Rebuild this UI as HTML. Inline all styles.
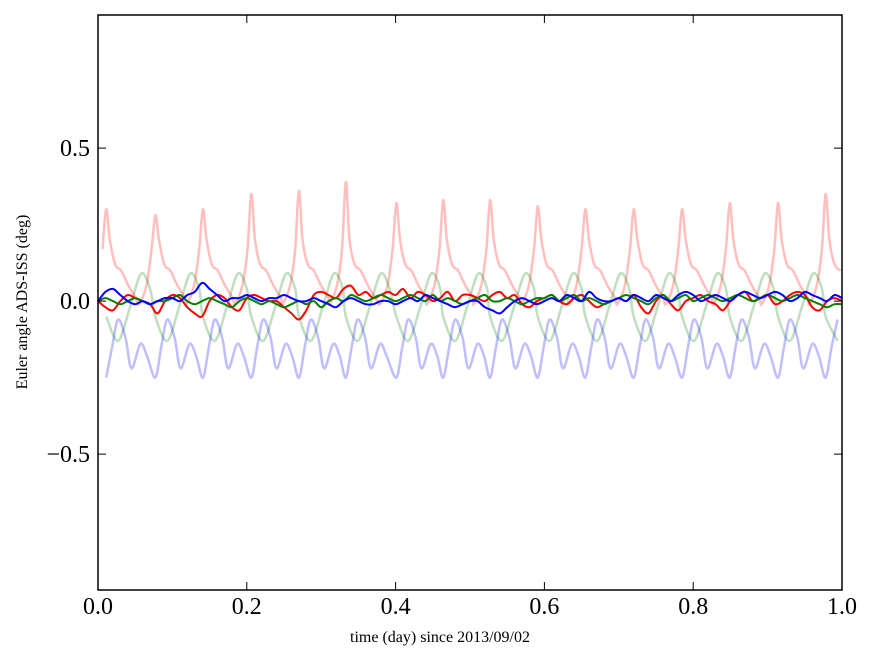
<!DOCTYPE html>
<html><head><meta charset="utf-8"><style>
body{margin:0;background:#fff;}
svg text{font-family:"Liberation Serif",serif;}
</style></head><body>
<svg id="chart" width="875" height="662" xmlns="http://www.w3.org/2000/svg">
<rect x="0" y="0" width="875" height="662" fill="#fff"/>
<g id="series"></g>
<rect x="98" y="15" width="744" height="575" fill="none" stroke="#000" stroke-width="1.5"/>
<g id="axes"></g>
<text x="440" y="642" font-size="16" text-anchor="middle">time (day) since 2013/09/02</text>
<text transform="translate(27,302) rotate(-90)" font-size="16" text-anchor="middle">Euler angle ADS-ISS (deg)</text>
</svg>
<script>
const xTicks=[0,0.2,0.4,0.6,0.8,1.0];
const xTickLabels=["0.0","0.2","0.4","0.6","0.8","1.0"];
const yTicks=[0.5,0,-0.5];
const yTickLabels=["0.5","0.0","\u22120.5"];
// orbit peak times and light-red peak values
const peakTimes=[0.011,0.077,0.141,0.206,0.270,0.333,0.401,0.464,0.527,0.591,0.655,0.720,0.785,0.849,0.914,0.978];
const redPeakValues=[0.30,0.28,0.30,0.35,0.36,0.39,0.32,0.33,0.33,0.31,0.30,0.30,0.30,0.32,0.32,0.35];
// per-orbit shapes (offset day, value)
const redShapeOffsets=[-0.022,-0.012,-0.005,0,0.005,0.012,0.02,0.03,0.04];
const redShapeValues=[-0.01,0.05,0.17,null,0.2,0.12,0.1,0.05,0.01];
const greenShapeOffsets=[0,0.016,0.032,0.047,0.059];
const greenShapeValues=[-0.05,-0.13,-0.02,0.09,0.04];
const blueShapeOffsets=[0,0.008,0.016,0.026,0.034,0.046,0.055];
const blueShapeValues=[-0.25,-0.15,-0.06,-0.12,-0.22,-0.14,-0.18];
// dark series sampled every 0.01 day
const darkRed=[0.0,-0.02,-0.03,0.0,0.02,0.01,0.0,-0.01,-0.04,0.0,0.02,0.01,-0.02,-0.04,-0.05,0.0,0.02,0.01,-0.02,-0.03,0.01,0.02,0.01,0.0,0.0,-0.02,-0.04,-0.06,-0.03,0.02,0.03,0.02,0.01,0.04,0.05,0.02,0.03,0.01,0.02,0.03,0.02,0.04,0.01,0.03,0.02,0.0,0.01,0.03,0.0,0.02,0.02,0.01,0.0,0.02,0.03,0.01,0.02,-0.01,-0.02,0.0,0.01,0.02,0.0,-0.01,0.01,0.02,0.0,-0.02,-0.01,0.0,0.01,0.0,0.02,-0.02,-0.04,0.0,0.02,-0.01,-0.03,0.0,0.01,0.02,0.0,-0.01,-0.03,0.0,0.02,0.03,0.0,0.01,0.02,-0.01,0.0,0.02,0.03,0.02,-0.02,-0.03,0.0,0.01,0.0];
const darkGreen=[0.0,0.01,0.0,-0.01,0.0,0.01,0.0,-0.01,0.0,0.0,0.01,0.02,0.0,-0.01,0.0,0.01,0.0,-0.01,-0.02,0.0,0.01,0.0,-0.01,0.0,-0.01,-0.02,-0.01,0.0,-0.01,0.0,-0.02,0.0,0.01,0.0,0.02,0.01,0.0,0.01,0.02,0.01,0.0,0.01,0.02,0.01,0.0,0.02,0.0,0.01,0.0,-0.01,0.0,0.01,0.02,0.0,0.0,0.01,0.0,-0.01,0.0,0.01,0.01,0.02,0.0,0.01,0.02,0.0,0.01,0.0,-0.01,0.0,0.01,0.02,0.01,0.0,-0.01,0.01,0.02,0.0,0.01,0.02,0.0,0.01,0.02,0.01,0.0,0.01,0.02,0.01,0.0,0.01,0.02,0.01,0.0,0.01,0.02,0.01,0.0,-0.01,-0.02,-0.01,-0.01];
const darkBlue=[0.0,0.03,0.04,0.02,0.0,-0.01,0.0,-0.01,0.0,0.01,0.01,0.0,0.02,0.03,0.06,0.04,0.02,0.0,0.01,0.01,0.02,0.01,0.0,0.01,0.01,0.02,0.01,0.0,0.0,0.01,0.0,-0.01,-0.02,0.0,0.01,0.0,-0.01,-0.01,0.0,0.0,-0.01,0.0,0.01,0.0,0.02,0.01,0.0,-0.01,-0.02,-0.01,0.0,0.0,-0.02,-0.03,-0.04,-0.02,0.0,0.01,0.0,-0.01,0.0,0.01,0.0,0.02,0.01,0.0,0.03,0.01,0.0,0.0,0.01,0.0,0.02,0.01,0.0,0.02,0.01,0.0,0.02,0.03,0.02,0.0,0.01,0.02,0.01,0.0,0.02,0.03,0.02,0.01,0.02,0.03,0.02,0.0,0.01,0.03,0.02,0.01,0.0,0.02,0.01];

const X0=98,X1=842,Y0=590,Y1=15,VMIN=-0.944,VMAX=0.935;
function sx(t){return X0+(t-0)/(1-0)*(X1-X0);}
function sy(v){return Y0+(v-VMIN)/(VMAX-VMIN)*(Y1-Y0);}
const NS="http://www.w3.org/2000/svg";
const sg=document.getElementById('series'), ag=document.getElementById('axes');

function buildOrbit(offsets,values,peakVals){
  const pts=[];
  peakTimes.forEach((tp,i)=>{offsets.forEach((o,j)=>{
    const v=values[j]===null?peakVals[i]:values[j];
    const t=tp+o; if(t>=0&&t<=1) pts.push([t,v]);});});
  return pts;
}
function buildDaily(arr){return arr.map((v,i)=>[i*0.01,v]);}
function smoothPath(pts){
  const P=pts.map(d=>[sx(d[0]),sy(d[1])]);
  let s='M'+P[0][0].toFixed(1)+','+P[0][1].toFixed(1);
  for(let i=0;i<P.length-1;i++){
    const p0=P[Math.max(0,i-1)],p1=P[i],p2=P[i+1],p3=P[Math.min(P.length-1,i+2)];
    const c1=[p1[0]+(p2[0]-p0[0])/6,p1[1]+(p2[1]-p0[1])/6];
    const c2=[p2[0]-(p3[0]-p1[0])/6,p2[1]-(p3[1]-p1[1])/6];
    s+='C'+c1[0].toFixed(1)+','+c1[1].toFixed(1)+' '+c2[0].toFixed(1)+','+c2[1].toFixed(1)+' '+p2[0].toFixed(1)+','+p2[1].toFixed(1);
  }
  return s;
}
function addLine(pts,color,op,name,w){
  const p=document.createElementNS(NS,'path');
  p.setAttribute('d',smoothPath(pts));
  p.setAttribute('fill','none');p.setAttribute('stroke',color);p.setAttribute('stroke-opacity',op);
  p.setAttribute('stroke-width',w);p.setAttribute('stroke-linejoin','round');
  
  
  sg.appendChild(p);
}
addLine(buildOrbit(redShapeOffsets,redShapeValues,redPeakValues),'#ff0000',0.25,'light-red-series',2.5);
addLine(buildOrbit(greenShapeOffsets,greenShapeValues,redPeakValues),'#008000',0.25,'light-green-series',2.5);
addLine(buildOrbit(blueShapeOffsets,blueShapeValues,redPeakValues),'#0000ff',0.25,'light-blue-series',2.5);
addLine(buildDaily(darkRed),'#ff0000',1,'red-series',2);
addLine(buildDaily(darkGreen),'#008000',1,'green-series',2);
addLine(buildDaily(darkBlue),'#0000ff',1,'blue-series',2);

function mk(tag,attrs){const e=document.createElementNS(NS,tag);for(const k in attrs)e.setAttribute(k,attrs[k]);ag.appendChild(e);return e;}
xTicks.forEach((t,i)=>{
  const x=sx(t);
  const a=mk('line',{x1:x,x2:x,y1:Y0,y2:Y0-8,stroke:'#000'});
  
  
  const b=mk('line',{x1:x,x2:x,y1:Y1,y2:Y1+8,stroke:'#000'});
  
  
  const l=mk('text',{x:x,y:614,'font-size':24,'text-anchor':'middle'});l.textContent=xTickLabels[i];
  
  
});
yTicks.forEach((v,i)=>{
  const y=sy(v);
  const a=mk('line',{x1:X0,x2:X0+8,y1:y,y2:y,stroke:'#000'});
  
  
  const b=mk('line',{x1:X1,x2:X1-8,y1:y,y2:y,stroke:'#000'});
  
  
  const l=mk('text',{x:90,y:y+8,'font-size':24,'text-anchor':'end'});l.textContent=yTickLabels[i];
  
  
});
</script>
</body></html>
